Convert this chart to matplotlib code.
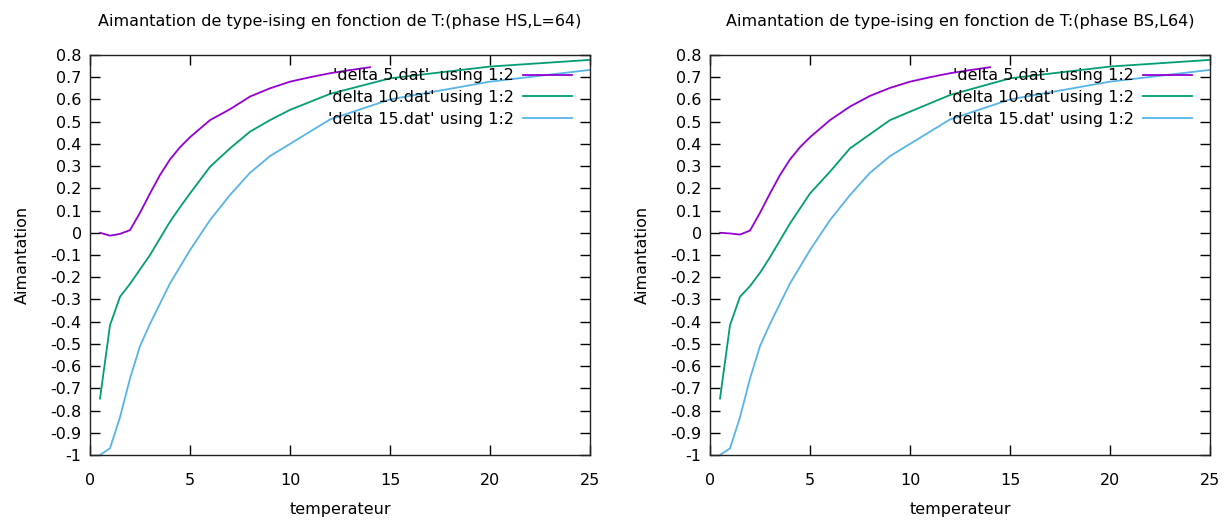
import matplotlib
matplotlib.use("Agg")
import matplotlib.pyplot as plt

plt.rcParams['font.family'] = ['DejaVu Sans']
plt.rcParams['font.size'] = 11.5

# phase HS, L=64
hs_t5 = [0.5, 1, 1.5, 2, 2.5, 3, 3.5, 4, 4.5, 5, 6, 7, 8, 9, 10, 11, 12, 13, 14]
hs_m5 = [0.0, -0.013, -0.005, 0.012, 0.09, 0.177, 0.26, 0.33, 0.385, 0.43, 0.507, 0.556,
         0.613, 0.65, 0.68, 0.70, 0.718, 0.732, 0.745]
hs_t10 = [0.5, 1, 1.5, 2, 2.5, 3, 3.5, 4, 4.5, 5, 6, 7, 8, 9, 10, 12, 15, 20, 25]
hs_m10 = [-0.746, -0.416, -0.288, -0.23, -0.165, -0.1, -0.025, 0.05, 0.115, 0.177, 0.297,
          0.38, 0.455, 0.507, 0.553, 0.625, 0.695, 0.748, 0.778]
hs_t15 = [0.5, 1, 1.5, 2, 2.5, 3, 4, 5, 6, 7, 8, 9, 10, 12, 15, 20, 25]
hs_m15 = [-1.0, -0.97, -0.83, -0.656, -0.51, -0.41, -0.228, -0.078, 0.057, 0.17, 0.27,
          0.345, 0.40, 0.51, 0.60, 0.68, 0.733]

# phase BS, L64
bs_t5 = [0.5, 1, 1.5, 2, 2.5, 3, 3.5, 4, 4.5, 5, 6, 7, 8, 9, 10, 11, 12, 13, 14]
bs_m5 = [0.0, -0.003, -0.008, 0.01, 0.09, 0.177, 0.26, 0.33, 0.385, 0.43, 0.507, 0.568,
         0.616, 0.652, 0.68, 0.70, 0.718, 0.732, 0.745]
bs_t10 = [0.5, 1, 1.5, 2, 2.5, 3, 4, 5, 6, 7, 9, 10, 12, 15, 20, 25]
bs_m10 = [-0.746, -0.416, -0.288, -0.24, -0.18, -0.11, 0.042, 0.177, 0.275, 0.38, 0.507,
          0.545, 0.62, 0.695, 0.748, 0.778]
bs_t15 = hs_t15
bs_m15 = hs_m15

labels = ["'delta 5.dat'  using 1:2", "'delta 10.dat' using 1:2", "'delta 15.dat' using 1:2"]
colors = ['#9400D3', '#009E73', '#56B4E9']
titles = ["Aimantation de type-ising en fonction de T:(phase HS,L=64)",
          "Aimantation de type-ising en fonction de T:(phase BS,L64)"]

W, H = 1225, 521
fig = plt.figure(figsize=(W / 100, H / 100), dpi=100)

panels = [
    (90, [(hs_t5, hs_m5), (hs_t10, hs_m10), (hs_t15, hs_m15)]),
    (710, [(bs_t5, bs_m5), (bs_t10, bs_m10), (bs_t15, bs_m15)]),
]

for i, (left, series) in enumerate(panels):
    ax = fig.add_axes([left / W, (H - 455) / H, 500 / W, 400 / H])
    for (t, m), c, lab in zip(series, colors, labels):
        ax.plot(t, m, color=c, lw=1.3, label=lab)
    ax.set_xlim(0, 25)
    ax.set_ylim(-1, 0.8)
    ax.set_xticks([0, 5, 10, 15, 20, 25])
    yt = [round(-1 + 0.1 * k, 1) for k in range(19)]
    ax.set_yticks(yt)
    ax.set_yticklabels(['0' if v == 0 else ('-1' if v == -1 else f'{v:g}') for v in yt])
    ax.tick_params(direction='in', length=7, width=1, top=True, right=True)
    ax.tick_params(axis='x', pad=13)
    ax.tick_params(axis='y', pad=6)
    for s in ax.spines.values():
        s.set_linewidth(1)
        s.set_color('#222222')
    ax.set_title(titles[i], pad=21, fontsize=11.5)
    ax.set_xlabel('temperateur', labelpad=10)
    ax.set_ylabel('Aimantation', labelpad=15)
    ax.legend(loc='upper right', bbox_to_anchor=(0.964, 0.967), markerfirst=False,
              frameon=False, handlelength=3.05, handletextpad=0.6, labelspacing=0.43,
              borderpad=0, borderaxespad=0, fontsize=11.5)

fig.savefig('out.png', dpi=100)
